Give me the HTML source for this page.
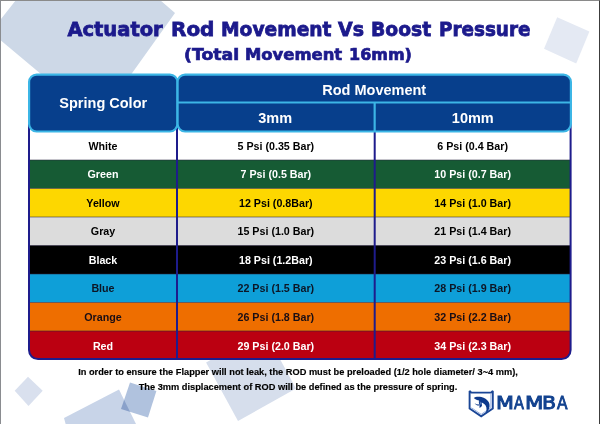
<!DOCTYPE html>
<html><head><meta charset="utf-8">
<style>
*{margin:0;padding:0;box-sizing:border-box;}
html,body{width:600px;height:424px;overflow:hidden;background:#fff;}
body{position:relative;font-family:"Liberation Sans",Arial,sans-serif;}
svg{position:absolute;left:0;top:0;}
.t1,.t2{position:absolute;left:0;width:600px;white-space:nowrap;color:#1c1a8c;font-family:"DejaVu Sans",sans-serif;font-weight:bold;}
.t1 span,.t2 span{position:absolute;top:0;transform-origin:0 0;}
.t1{top:18.4px;height:24px;font-size:19.5px;line-height:24px;-webkit-text-stroke:0.8px #1c1a8c;}
.t2{top:44.8px;height:20px;font-size:16px;line-height:20px;-webkit-text-stroke:0.7px #1c1a8c;}
.c{position:absolute;display:flex;align-items:center;justify-content:center;white-space:nowrap;font-weight:bold;}
.hc{color:#fff;font-size:14.5px;}
.rc{font-size:10.7px;}
.foot{position:absolute;left:0;width:596px;text-align:center;white-space:nowrap;font-weight:bold;font-size:9.25px;line-height:12px;color:#000;-webkit-text-stroke:0.15px #000;}
.mb{position:absolute;left:0;width:600px;height:18px;font-family:'DejaVu Sans',sans-serif;font-weight:normal;font-size:14.5px;line-height:18px;color:#12428f;-webkit-text-stroke:0.75px #12428f;}
.mb span{position:absolute;top:0;transform-origin:0 0;}
.bord{position:absolute;left:0;top:0;width:600px;height:424px;border-top:1px solid #8a8a8a;border-left:1px solid #8a8c90;border-right:1px solid #3c3c3c;}
</style></head>
<body>

<svg width="600" height="424" viewBox="0 0 600 424">
<polygon points="16,0 -9.3,32 60,90 120,90 175,13 160,0" fill="#cdd8e7"/>
<polygon points="557.2,17.3 589.4,31.4 576.2,63.5 544,48.7" fill="#e4e9f3"/>
<polygon points="28,376.8 42.7,390.7 28.5,406 14.7,390.7" fill="#d9e0ee"/>
<polygon points="264.1,330.1 296,388.5 238,421 206.1,362.6" fill="#d6deec"/>
<g style="isolation:isolate"><polygon points="64,418 119,389.6 136,424 140,440 70,440" fill="#c8d4e8" style="mix-blend-mode:multiply"/>
<polygon points="130,382.4 156.4,391 148,417.6 121,409" fill="#b0c2de" style="mix-blend-mode:multiply"/></g>
<clipPath id="bc"><rect x="29" y="100" width="541.6" height="259.1" rx="9"/></clipPath>
<g clip-path="url(#bc)">
<rect x="0" y="131.6" width="600" height="28.4" fill="#ffffff"/>
<rect x="0" y="160" width="600" height="28.5" fill="#165b34"/>
<rect x="0" y="188.5" width="600" height="28.5" fill="#fdd700"/>
<rect x="0" y="217" width="600" height="28.5" fill="#dcdcdc"/>
<rect x="0" y="245.5" width="600" height="28.5" fill="#000000"/>
<rect x="0" y="274" width="600" height="28.5" fill="#0e9fd8"/>
<rect x="0" y="302.5" width="600" height="28.5" fill="#ee6e00"/>
<rect x="0" y="331" width="600" height="29" fill="#bb0011"/>
<rect x="0" y="159.5" width="600" height="1" fill="#2a2440" opacity="0.55"/>
<rect x="0" y="188" width="600" height="1" fill="#2a2440" opacity="0.55"/>
<rect x="0" y="216.5" width="600" height="1" fill="#2a2440" opacity="0.55"/>
<rect x="0" y="245" width="600" height="1" fill="#2a2440" opacity="0.55"/>
<rect x="0" y="273.5" width="600" height="1" fill="#2a2440" opacity="0.55"/>
<rect x="0" y="302" width="600" height="1" fill="#2a2440" opacity="0.55"/>
<rect x="0" y="330.5" width="600" height="1" fill="#2a2440" opacity="0.55"/>
<rect x="176" y="100" width="2" height="300" fill="#1e1c8c"/>
<rect x="373.7" y="100" width="2" height="300" fill="#1e1c8c"/>
</g>
<rect x="29" y="100" width="541.6" height="259.1" rx="9" fill="none" stroke="#1e1c8c" stroke-width="2"/>
<rect x="29.1" y="74.6" width="148.3" height="56.9" rx="7.5" fill="#073f8c" stroke="#3cb6e6" stroke-width="2.2"/>
<rect x="177.6" y="74.6" width="393.3" height="56.9" rx="7.5" fill="#073f8c" stroke="#3cb6e6" stroke-width="2.2"/>
<line x1="177.6" y1="102.5" x2="570.9" y2="102.5" stroke="#3cb6e6" stroke-width="2.2"/>
<line x1="374.65" y1="102.5" x2="374.65" y2="131.5" stroke="#3cb6e6" stroke-width="2.2"/>
<g transform="translate(466,388)">
<path d="M3.6,3 L5.4,4.6 L25,4.6 L26.8,3 L26.8,20.6 L15.2,28.4 L3.6,20.6 Z" fill="none" stroke="#1a4696" stroke-width="1.9" stroke-linejoin="miter" stroke-miterlimit="2"/>
<path d="M24.9,6 L24.9,19.8 L15.2,26.3 L5.5,19.8" fill="none" stroke="#8aa6dc" stroke-width="0.9"/>
<path d="M7.8,9.9 C9,8.7 12,8.5 15.4,8.9 C18.5,9.4 21,11.4 22.7,14 C24.1,16.6 23.9,20 22.1,22.6 C21.3,23.8 20.5,24.6 19.6,25.3 C20.8,22.6 20.9,19.8 19.6,17.6 C18.6,16 17.2,15 15.6,14.5 L16,17.8 C15.4,19 14.4,19.7 13.3,19.8 L13.7,16.9 C12.7,15.4 12.7,13.7 13.1,12.6 C11.4,12.2 9.4,11.4 7.8,9.9 Z" fill="#0e3a8c"/>
<path d="M8.6,15.2 C10.3,16.3 12,16.7 13.7,16.3 L13.6,17.4 C11.8,17.7 9.9,17.2 8.6,15.2 Z" fill="#0e3a8c"/>
<path d="M13.9,13.6 C14.6,14.6 14.6,15.8 14.2,16.6" fill="none" stroke="#9fb8e8" stroke-width="0.6"/>
</g>
</svg>
<div class="t1"><span style="left:67.4px;transform:scaleX(1.0)">Actuator</span> <span style="left:170.7px;transform:scaleX(1.025)">Rod</span> <span style="left:220.7px;transform:scaleX(0.957)">Movement</span> <span style="left:338.0px;transform:scaleX(0.973)">Vs</span> <span style="left:370.7px;transform:scaleX(0.961)">Boost</span> <span style="left:438.6px;transform:scaleX(0.942)">Pressure</span></div>
<div class="t2"><span style="left:183.9px;transform:scaleX(1.08)">(Total</span> <span style="left:245.0px;transform:scaleX(1.026)">Movement</span> <span style="left:349.0px;transform:scaleX(1.0)">16mm)</span></div>
<div class="c hc" style="left:30.2px;top:75.9px;width:146.1px;height:54.7px">Spring Color</div>
<div class="c hc" style="left:178.7px;top:77.1px;width:391.1px;height:25.7px">Rod Movement</div>
<div class="c hc" style="left:177.7px;top:104.8px;width:194.85px;height:26.8px">3mm</div>
<div class="c hc" style="left:375.75px;top:104.8px;width:194.05px;height:26.8px">10mm</div>
<div class="c rc" style="left:30px;top:131.6px;width:146px;height:28.4px;color:#000">White</div>
<div class="c rc" style="left:178px;top:131.6px;width:195.7px;height:28.4px;color:#000">5 Psi (0.35 Bar)</div>
<div class="c rc" style="left:375.7px;top:131.6px;width:193.9px;height:28.4px;color:#000">6 Psi (0.4 Bar)</div>
<div class="c rc" style="left:30px;top:160px;width:146px;height:28.5px;color:#fff">Green</div>
<div class="c rc" style="left:178px;top:160px;width:195.7px;height:28.5px;color:#fff">7 Psi (0.5 Bar)</div>
<div class="c rc" style="left:375.7px;top:160px;width:193.9px;height:28.5px;color:#fff">10 Psi (0.7 Bar)</div>
<div class="c rc" style="left:30px;top:188.5px;width:146px;height:28.5px;color:#000">Yellow</div>
<div class="c rc" style="left:178px;top:188.5px;width:195.7px;height:28.5px;color:#000">12 Psi (0.8Bar)</div>
<div class="c rc" style="left:375.7px;top:188.5px;width:193.9px;height:28.5px;color:#000">14 Psi (1.0 Bar)</div>
<div class="c rc" style="left:30px;top:217px;width:146px;height:28.5px;color:#000">Gray</div>
<div class="c rc" style="left:178px;top:217px;width:195.7px;height:28.5px;color:#000">15 Psi (1.0 Bar)</div>
<div class="c rc" style="left:375.7px;top:217px;width:193.9px;height:28.5px;color:#000">21 Psi (1.4 Bar)</div>
<div class="c rc" style="left:30px;top:245.5px;width:146px;height:28.5px;color:#fff">Black</div>
<div class="c rc" style="left:178px;top:245.5px;width:195.7px;height:28.5px;color:#fff">18 Psi (1.2Bar)</div>
<div class="c rc" style="left:375.7px;top:245.5px;width:193.9px;height:28.5px;color:#fff">23 Psi (1.6 Bar)</div>
<div class="c rc" style="left:30px;top:274px;width:146px;height:28.5px;color:#0c1626">Blue</div>
<div class="c rc" style="left:178px;top:274px;width:195.7px;height:28.5px;color:#0c1626">22 Psi (1.5 Bar)</div>
<div class="c rc" style="left:375.7px;top:274px;width:193.9px;height:28.5px;color:#0c1626">28 Psi (1.9 Bar)</div>
<div class="c rc" style="left:30px;top:302.5px;width:146px;height:28.5px;color:#1a0e14">Orange</div>
<div class="c rc" style="left:178px;top:302.5px;width:195.7px;height:28.5px;color:#1a0e14">26 Psi (1.8 Bar)</div>
<div class="c rc" style="left:375.7px;top:302.5px;width:193.9px;height:28.5px;color:#1a0e14">32 Psi (2.2 Bar)</div>
<div class="c rc" style="left:30px;top:331px;width:146px;height:29px;color:#fff">Red</div>
<div class="c rc" style="left:178px;top:331px;width:195.7px;height:29px;color:#fff">29 Psi (2.0 Bar)</div>
<div class="c rc" style="left:375.7px;top:331px;width:193.9px;height:29px;color:#fff">34 Psi (2.3 Bar)</div>
<div class="foot" style="top:366px;">In order to ensure the Flapper will not leak, the ROD must be preloaded (1/2 hole diameter/ 3~4 mm),</div>
<div class="foot" style="top:380.5px;">The 3mm displacement of ROD will be defined as the pressure of spring.</div>
<div class="mb" style="top:390.92px"><span style="left:495.57px;transform:scale(1.430,1.270)">M</span><span style="left:514px;transform:scale(1.000,1.270)">A</span><span style="left:524.83px;transform:scale(1.470,1.270)">M</span><span style="left:541.59px;transform:scale(1.413,1.270)">B</span><span style="left:556.7px;transform:scale(1.060,1.270)">A</span></div>
<div class="bord"></div>
</body></html>
